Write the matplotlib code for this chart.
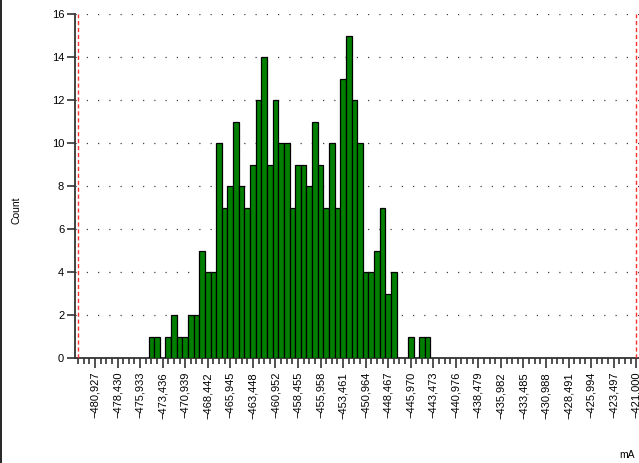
import numpy as np
import matplotlib
matplotlib.use('Agg')
import matplotlib.pyplot as plt
from matplotlib.lines import Line2D

# histogram bins (mA), counts
bin_width = 0.62424
first_center = -474.685
counts = [1, 1, 0, 1, 2, 1, 1, 2, 2, 5, 4, 4, 10, 7, 8, 11, 8, 7, 9, 12,
          14, 9, 12, 10, 10, 7, 9, 9, 8, 11, 9, 7, 10, 7, 13, 15, 12, 10, 4, 4,
          5, 7, 3, 4, 0, 0, 1, 0, 1, 1]

# axis range / limit lines
lower_limit = -482.800
upper_limit = -421.000

tick_values = [-480.927, -478.430, -475.933, -473.436, -470.939, -468.442,
               -465.945, -463.448, -460.952, -458.455, -455.958, -453.461,
               -450.964, -448.467, -445.970, -443.473, -440.976, -438.479,
               -435.982, -433.485, -430.988, -428.491, -425.994, -423.497,
               -421.000]
# comma decimals, proper minus sign so it stays visible when rotated
tick_labels = ['{:.3f}'.format(v).replace('.', ',').replace('-', '\u2212')
               for v in tick_values]

plt.rcParams['font.family'] = ['Liberation Sans', 'DejaVu Sans']

fig = plt.figure(figsize=(6.39, 4.63), dpi=100)
ax = fig.add_axes([75.3 / 639, 105 / 463, (639 - 75.3) / 639, 344 / 463])

centers = first_center + bin_width * np.arange(len(counts))
ax.bar(centers, counts, width=bin_width, color='#007f00', edgecolor='black',
       linewidth=0.9, zorder=3)

ax.axvline(lower_limit, color='#ff3030', linestyle=(0, (3, 2)), linewidth=1.0, zorder=4)
ax.axvline(upper_limit, color='#ff3030', linestyle=(0, (3, 2)), linewidth=1.0, zorder=4)

ax.set_xlim(lower_limit - bin_width / 2, upper_limit + bin_width / 2)
ax.set_ylim(0, 16)
ax.set_yticks(range(0, 17, 2))
ax.tick_params(axis='y', labelsize=8, length=6, width=1.2, color='#333333', pad=2)

ax.set_xticks(tick_values)
ax.set_xticklabels(tick_labels, rotation=90, fontsize=8)
minor = lower_limit + bin_width * np.arange(100)
ax.set_xticks(minor, minor=True)
ax.tick_params(axis='x', which='major', length=7, width=1.2, color='#333333', pad=3)
ax.tick_params(axis='x', which='minor', length=4, width=1.2, color='#333333')

for y in range(2, 17, 2):
    ax.axhline(y, color='#444444', linestyle=(0, (1, 8)), linewidth=0.9, zorder=1)

for s in ['top', 'right']:
    ax.spines[s].set_visible(False)
for s in ['left', 'bottom']:
    ax.spines[s].set_linewidth(1.3)
    ax.spines[s].set_color('#333333')

fig.text(16 / 639, 1 - 210 / 463, 'Count', rotation=90, fontsize=7.5,
         ha='center', va='center')
fig.text(627 / 639, 1 - 455 / 463, 'mA', fontsize=7.5, ha='center', va='center')
fig.add_artist(Line2D([0.6 / 639, 0.6 / 639], [0, 1], color='black', linewidth=1.2))

fig.savefig('out.png', dpi=100)
